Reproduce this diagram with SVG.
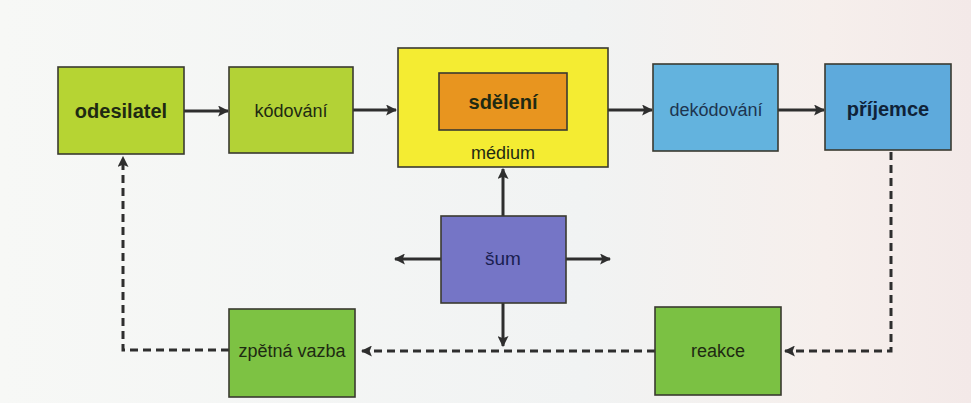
<svg xmlns="http://www.w3.org/2000/svg" width="971" height="403" viewBox="0 0 971 403">
<defs>
<linearGradient id="bg" x1="0" y1="0" x2="1" y2="0">
<stop offset="0" stop-color="#f7f8f6"/>
<stop offset="0.6" stop-color="#f1f3f3"/>
<stop offset="0.85" stop-color="#f6efec"/>
<stop offset="1" stop-color="#f3e9e8"/>
</linearGradient>
<marker id="ah" viewBox="0 0 10 10" refX="9" refY="5" markerWidth="11" markerHeight="11" markerUnits="userSpaceOnUse" orient="auto">
<path d="M0,0 L10,5 L0,10 L2,5 Z" fill="#2e2e2e"/>
</marker>
</defs>
<style>
.box{stroke:#3a3a30;stroke-width:1.6}
.t{font-family:"Liberation Sans",Arial,sans-serif;fill:#1e2a12;text-anchor:middle}
.b{font-weight:bold;font-size:20px}
.r{font-size:18px}
.c{fill:none;stroke:#2e2e2e;stroke-width:3}
.d{stroke-dasharray:8 5}
</style>
<rect x="0" y="0" width="971" height="403" fill="url(#bg)"/>
<g id="connectors">
<line class="c" x1="184" y1="111" x2="228" y2="111" marker-end="url(#ah)"/>
<line class="c" x1="353" y1="110" x2="396" y2="110" marker-end="url(#ah)"/>
<line class="c" x1="608" y1="110" x2="652" y2="110" marker-end="url(#ah)"/>
<line class="c" x1="778" y1="110" x2="824" y2="110" marker-end="url(#ah)"/>
<line class="c" x1="503" y1="216" x2="503" y2="169" marker-end="url(#ah)"/>
<line class="c" x1="441" y1="259" x2="395" y2="259" marker-end="url(#ah)"/>
<line class="c" x1="566" y1="259" x2="610" y2="259" marker-end="url(#ah)"/>
<line class="c" x1="503" y1="303" x2="503" y2="346" marker-end="url(#ah)"/>
<polyline class="c d" points="891,152 891,351 785,351" marker-end="url(#ah)"/>
<line class="c d" x1="655" y1="351" x2="362" y2="351" marker-end="url(#ah)"/>
<polyline class="c d" points="229,350 123,350 123,157" marker-end="url(#ah)"/>
</g>
<g id="odesilatel">
<rect class="box" x="58" y="67" width="126" height="87" fill="#b6d433"/>
<text class="t b" x="121" y="118">odesilatel</text>
</g>
<g id="kodovani">
<rect class="box" x="229" y="67" width="124" height="86" fill="#b3d236"/>
<text class="t r" x="291" y="117">kódování</text>
</g>
<g id="medium">
<rect class="box" x="398" y="48" width="210" height="119" fill="#f4ec32"/>
<text class="t r" x="503" y="159">médium</text>
</g>
<g id="sdeleni">
<rect class="box" x="439" y="73" width="128" height="57" fill="#e8951f"/>
<text class="t b" x="503" y="109">sdělení</text>
</g>
<g id="dekodovani">
<rect class="box" x="653" y="64" width="125" height="87" fill="#63b3de"/>
<text class="t r" x="716" y="116" style="fill:#1d3550">dekódování</text>
</g>
<g id="prijemce">
<rect class="box" x="825" y="64" width="126" height="86" fill="#5eaadc"/>
<text class="t b" x="888" y="116" style="fill:#0f2238">příjemce</text>
</g>
<g id="sum">
<rect class="box" x="441" y="216" width="125" height="87" fill="#7575c6"/>
<text class="t r" x="503" y="265" style="fill:#1a1e50;font-size:19px">šum</text>
</g>
<g id="zpetna-vazba">
<rect class="box" x="229" y="309" width="126" height="88" fill="#7dc243"/>
<text class="t r" x="292" y="357">zpětná vazba</text>
</g>
<g id="reakce">
<rect class="box" x="655" y="307" width="126" height="88" fill="#7bc143"/>
<text class="t r" x="718" y="357">reakce</text>
</g>
</svg>
